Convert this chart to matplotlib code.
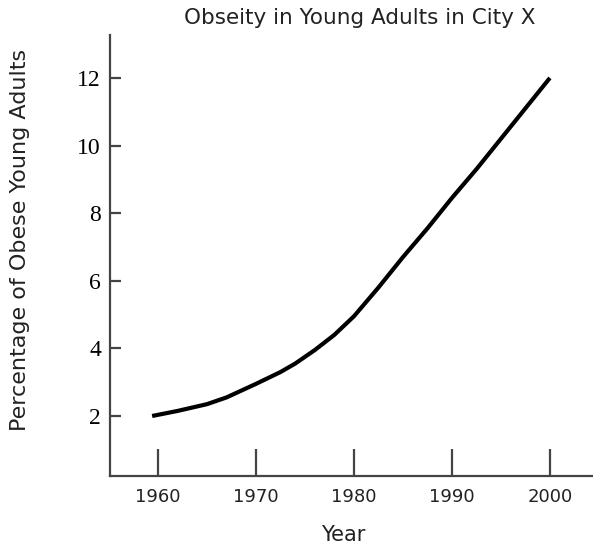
import matplotlib
matplotlib.use("Agg")
import matplotlib.pyplot as plt

# values
years = [1959.4, 1962, 1965, 1967, 1970, 1972.5, 1974, 1976, 1978, 1980,
         1982.5, 1985, 1987.5, 1990, 1992.5, 1995, 1997.5, 2000]
obese_pct = [2.0, 2.15, 2.35, 2.55, 2.95, 3.3, 3.55, 3.95, 4.4, 4.95,
             5.8, 6.7, 7.55, 8.45, 9.3, 10.2, 11.1, 12.0]
xticks = [1960, 1970, 1980, 1990, 2000]
yticks = [2, 4, 6, 8, 10, 12]

fig = plt.figure(figsize=(5.93, 5.48), dpi=100)
ax = fig.add_axes([110/593, 1 - 476/548, 1 - 110/593, (476 - 35)/548])

ax.plot(years, obese_pct, color="black", lw=3.0, solid_capstyle="butt",
        solid_joinstyle="round")

ax.set_xlim(1955.1, 2004.4)
ax.set_ylim(0.225, 13.27)

for s in ["top", "right"]:
    ax.spines[s].set_visible(False)
for s in ["left", "bottom"]:
    ax.spines[s].set_color("#444444")
    ax.spines[s].set_linewidth(1.6)

ax.set_xticks(xticks)
ax.set_yticks(yticks)
ax.tick_params(axis="x", direction="in", length=19.5, width=1.6, color="#444444",
               pad=9, labelsize=13)
ax.tick_params(axis="y", direction="in", length=8, width=1.6, color="#444444",
               pad=6.5, labelsize=17)
for lab in ax.get_xticklabels():
    lab.set_fontfamily("DejaVu Sans")
    lab.set_color("#222222")
for lab in ax.get_yticklabels():
    lab.set_fontfamily("Liberation Serif")
    lab.set_color("black")

fig.text(360/593, 1 - 18/548, "Obseity in Young Adults in City X", ha="center", va="center",
         fontsize=15.5, family="DejaVu Sans", color="#222222")
fig.text(20/593, 1 - 240/548, "Percentage of Obese Young Adults", ha="center", va="center",
         rotation=90, fontsize=16, family="DejaVu Sans", color="#222222")
fig.text(343/593, 1 - 535/548, "Year", ha="center", va="center",
         fontsize=15, family="DejaVu Sans", color="#222222")

fig.savefig("out.png", dpi=100)
